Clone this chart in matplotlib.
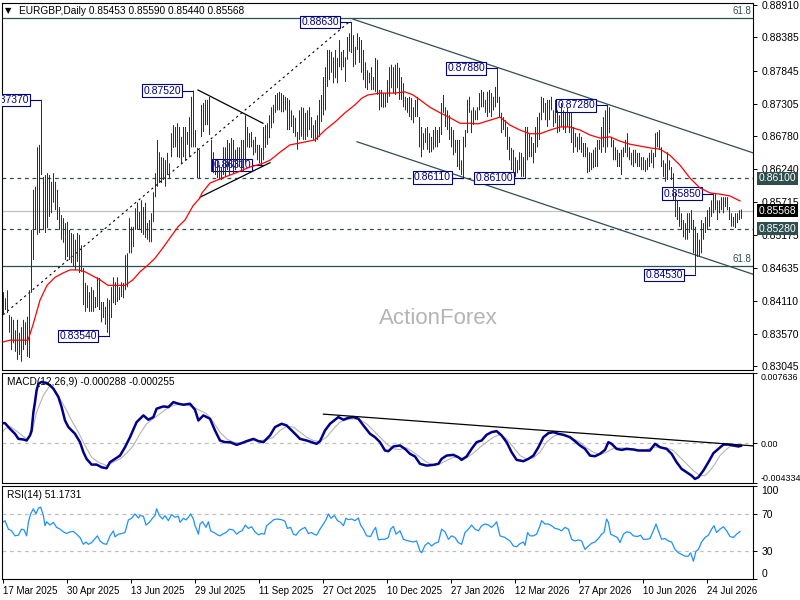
import matplotlib
matplotlib.use("Agg")
import matplotlib.pyplot as plt
import matplotlib.transforms as mtrans
import numpy as np

plt.rcParams['font.family'] = ['Liberation Sans', 'DejaVu Sans']

# ---------------- data (prices in pips = price x 10000) ----------------
high_pips = [
    8425, 8415, 8428, 8388, 8385, 8380, 8363, 8380, 8359, 8368,
    8380, 8376, 8385, 8428, 8526, 8591, 8596, 8660, 8664, 8737,
    8612, 8615, 8618, 8615, 8604, 8618, 8604, 8591, 8563, 8550,
    8545, 8537, 8539, 8526, 8521, 8519, 8510, 8521, 8518, 8501,
    8464, 8440, 8436, 8425, 8433, 8428, 8417, 8449, 8448, 8409,
    8409, 8401, 8415, 8412, 8433, 8449, 8441, 8449, 8433, 8441,
    8440, 8485, 8488, 8545, 8531, 8531, 8561, 8570, 8555, 8574,
    8563, 8570, 8537, 8542, 8553, 8587, 8618, 8672, 8652, 8644,
    8643, 8639, 8651, 8634, 8683, 8696, 8693, 8699, 8693, 8677,
    8693, 8693, 8685, 8709, 8742, 8752, 8688, 8659, 8656, 8729,
    8732, 8737, 8737, 8742, 8672, 8652, 8639, 8639, 8631, 8628,
    8660, 8660, 8672, 8667, 8675, 8672, 8656, 8660, 8660, 8672,
    8672, 8712, 8693, 8683, 8685, 8672, 8677, 8664, 8664, 8659,
    8693, 8696, 8699, 8712, 8725, 8729, 8745, 8748, 8750, 8748,
    8745, 8742, 8740, 8737, 8720, 8712, 8708, 8685, 8720, 8725,
    8724, 8716, 8720, 8725, 8709, 8696, 8704, 8712, 8737, 8745,
    8774, 8790, 8818, 8818, 8815, 8806, 8818, 8805, 8834, 8815,
    8818, 8806, 8839, 8845, 8863, 8842, 8823, 8845, 8839, 8834,
    8818, 8798, 8785, 8781, 8790, 8774, 8805, 8802, 8753, 8753,
    8748, 8748, 8769, 8790, 8794, 8790, 8794, 8797, 8789, 8774,
    8764, 8742, 8740, 8742, 8740, 8725, 8737, 8742, 8709, 8693,
    8683, 8691, 8693, 8683, 8677, 8688, 8693, 8688, 8693, 8732,
    8745, 8725, 8720, 8712, 8693, 8688, 8672, 8672, 8672, 8639,
    8677, 8688, 8737, 8742, 8720, 8725, 8720, 8725, 8748, 8753,
    8750, 8737, 8750, 8753, 8748, 8742, 8758, 8788, 8742, 8716,
    8709, 8704, 8693, 8677, 8659, 8656, 8644, 8639, 8652, 8651,
    8644, 8693, 8693, 8683, 8677, 8667, 8693, 8709, 8716, 8742,
    8740, 8732, 8737, 8737, 8742, 8720, 8737, 8720, 8712, 8732,
    8720, 8716, 8725, 8716, 8717, 8693, 8683, 8677, 8683, 8677,
    8667, 8667, 8660, 8652, 8651, 8656, 8660, 8672, 8672, 8693,
    8709, 8720, 8728, 8725, 8677, 8672, 8660, 8656, 8651, 8656,
    8660, 8672, 8683, 8660, 8651, 8656, 8656, 8651, 8651, 8644,
    8644, 8639, 8643, 8651, 8656, 8651, 8683, 8685, 8688, 8660,
    8639, 8634, 8652, 8639, 8628, 8618, 8586, 8574, 8563, 8553,
    8542, 8537, 8553, 8553, 8558, 8542, 8531, 8521, 8510, 8542,
    8537, 8547, 8558, 8563, 8574, 8585, 8584, 8574, 8574, 8579,
    8579, 8579, 8579, 8563, 8553, 8547, 8553, 8553, 8558, 8559,
]
low_pips = [
    8388, 8396, 8391, 8359, 8331, 8342, 8328, 8315, 8323, 8312,
    8331, 8339, 8320, 8318, 8424, 8477, 8526, 8518, 8521, 8615,
    8526, 8521, 8529, 8547, 8553, 8570, 8558, 8542, 8526, 8510,
    8505, 8477, 8482, 8477, 8472, 8466, 8461, 8474, 8456, 8458,
    8404, 8393, 8399, 8393, 8393, 8393, 8399, 8401, 8396, 8376,
    8383, 8372, 8359, 8354, 8383, 8407, 8404, 8409, 8412, 8417,
    8415, 8428, 8433, 8488, 8488, 8498, 8526, 8526, 8526, 8521,
    8518, 8513, 8510, 8506, 8506, 8539, 8579, 8596, 8602, 8602,
    8607, 8596, 8615, 8610, 8644, 8659, 8660, 8644, 8643, 8634,
    8644, 8639, 8664, 8644, 8660, 8660, 8660, 8610, 8610, 8677,
    8685, 8696, 8696, 8680, 8620, 8618, 8615, 8610, 8607, 8607,
    8615, 8612, 8623, 8615, 8628, 8618, 8623, 8628, 8628, 8623,
    8620, 8634, 8660, 8659, 8660, 8647, 8651, 8639, 8634, 8631,
    8639, 8659, 8664, 8675, 8691, 8699, 8716, 8720, 8720, 8717,
    8717, 8720, 8688, 8688, 8693, 8683, 8677, 8656, 8672, 8677,
    8672, 8672, 8677, 8688, 8675, 8672, 8669, 8672, 8677, 8701,
    8712, 8720, 8758, 8769, 8781, 8764, 8772, 8764, 8790, 8785,
    8790, 8766, 8802, 8815, 8813, 8790, 8794, 8818, 8797, 8781,
    8769, 8756, 8753, 8764, 8753, 8753, 8750, 8745, 8720, 8725,
    8724, 8725, 8732, 8742, 8756, 8748, 8745, 8756, 8737, 8737,
    8725, 8720, 8716, 8709, 8704, 8699, 8709, 8709, 8660, 8644,
    8656, 8667, 8656, 8651, 8652, 8656, 8660, 8660, 8667, 8680,
    8716, 8693, 8688, 8672, 8660, 8647, 8651, 8628, 8623, 8615,
    8611, 8660, 8683, 8716, 8683, 8696, 8704, 8704, 8720, 8725,
    8725, 8716, 8709, 8716, 8709, 8720, 8725, 8732, 8709, 8683,
    8688, 8677, 8656, 8639, 8623, 8618, 8612, 8618, 8623, 8612,
    8612, 8610, 8639, 8644, 8644, 8634, 8651, 8660, 8672, 8704,
    8716, 8704, 8693, 8704, 8720, 8693, 8699, 8683, 8685, 8693,
    8688, 8683, 8693, 8683, 8667, 8651, 8660, 8652, 8656, 8651,
    8644, 8644, 8618, 8620, 8623, 8626, 8628, 8628, 8656, 8651,
    8660, 8651, 8660, 8683, 8660, 8639, 8639, 8628, 8628, 8615,
    8644, 8651, 8644, 8639, 8631, 8628, 8634, 8628, 8628, 8623,
    8623, 8620, 8623, 8628, 8634, 8626, 8644, 8660, 8656, 8628,
    8612, 8604, 8607, 8623, 8607, 8574, 8547, 8542, 8531, 8526,
    8514, 8510, 8510, 8521, 8526, 8488, 8453, 8482, 8482, 8488,
    8510, 8521, 8526, 8531, 8547, 8553, 8558, 8542, 8553, 8558,
    8553, 8563, 8558, 8542, 8531, 8531, 8529, 8537, 8542, 8544,
]

# moving average (bar index, pips)
ma_pts = [(0, 8344), (3.5, 8347), (12.5, 8347), (15, 8372), (18.5, 8412), (22, 8436), (26, 8449),
          (30, 8456), (33.5, 8461), (37.5, 8461), (41, 8458), (45, 8451), (48.5, 8445), (52.5, 8436),
          (56, 8436), (61, 8436), (65, 8445), (68.5, 8458), (72.5, 8469), (76, 8480), (80, 8497),
          (83.5, 8513), (87.5, 8531), (91, 8542), (95, 8565), (98.5, 8578), (99.5, 8586), (103.5, 8602),
          (109.5, 8610), (116, 8618), (123.5, 8628), (130, 8634), (133.5, 8639), (138.5, 8652),
          (143.5, 8664), (148.5, 8667), (156, 8672), (161, 8688), (166, 8701), (171, 8716), (176, 8729),
          (179.5, 8740), (182.5, 8745), (188.5, 8748), (196, 8748), (201, 8750), (205, 8745),
          (208.5, 8737), (213.5, 8725), (218.5, 8716), (223.5, 8708), (228.5, 8699), (233.5, 8699),
          (237.5, 8698), (243.5, 8704), (248.5, 8709), (253.5, 8696), (258.5, 8688), (263.5, 8682),
          (268.5, 8682), (273.5, 8688), (278.5, 8693), (283.5, 8693), (288.5, 8688), (293.5, 8680),
          (298.5, 8675), (303.5, 8677), (308.5, 8670), (313.5, 8665), (318.5, 8662), (323.5, 8659),
          (328.5, 8657), (333.5, 8647), (338.5, 8631), (343.5, 8610), (348.5, 8594), (353.5, 8586),
          (358.5, 8584), (363.5, 8581), (368.5, 8573)]

macd_pts = [(-1.5, 0.00218), (1, 0.00218), (3.5, 0.00156), (6, 0.00102), (7.7, 0.00047), (10.2, 0.00040),
            (11.8, 0.00029), (13.5, 0.00084), (14.3, 0.00138), (15.2, 0.00338), (16, 0.00447),
            (16.8, 0.00575), (17.7, 0.00647), (19.3, 0.00666), (21.8, 0.00655), (23.5, 0.00629),
            (25.2, 0.00593), (27.7, 0.00502), (29.3, 0.00393), (31, 0.00247), (32.7, 0.00175),
            (36, 0.00102), (38.5, 0.00011), (40.2, -0.00098), (41.8, -0.00171), (44.3, -0.00233),
            (46.8, -0.00233), (49.3, -0.00262), (51.8, -0.00273), (53.5, -0.00207), (56, -0.00171),
            (58.5, -0.00135), (61, -0.00044), (63.5, 0.00065), (66.8, 0.00229), (70.2, 0.00302),
            (72.7, 0.00255), (75.2, 0.00284), (76.8, 0.00375), (80.2, 0.00400), (82.7, 0.00393),
            (85.2, 0.00447), (87.7, 0.00429), (90.2, 0.00418), (93.5, 0.00429), (96, 0.00364),
            (97.7, 0.00247), (100.2, 0.00302), (103.5, 0.00266), (106, 0.00138), (108.5, 0.00029),
            (111, 0.00011), (113.5, 0.00011), (116.8, -0.00018), (119.3, 0.0), (121.8, 0.00022),
            (125.2, 0.00047), (127.7, 0.00022), (130.2, 0.00011), (133.5, 0.00084), (136, 0.00175),
            (139.3, 0.00211), (141.8, 0.00193), (145.2, 0.00120), (148.5, 0.00047), (151.8, 0.00029),
            (154.3, 0.00011), (156.8, -0.00007), (158.5, 0.00022), (161, 0.00138), (163.5, 0.00211),
            (166, 0.00255), (167.7, 0.00284), (170.2, 0.00255), (172.7, 0.00276), (175.2, 0.00284),
            (177.7, 0.00266), (180.2, 0.00193), (183.5, 0.00102), (186, 0.00065), (188.5, 0.00011),
            (191, -0.00080), (192.7, -0.00087), (195.2, -0.00036), (198.5, -0.00025), (201, -0.00062),
            (203.5, -0.00116), (206, -0.00145), (208.5, -0.00225), (211.8, -0.00244), (215.2, -0.00236),
            (217.7, -0.00225), (219.3, -0.00171), (221.8, -0.00135), (225.2, -0.00127), (227.7, -0.00153),
            (229.3, -0.00182), (231.8, -0.00145), (234.3, -0.00062), (236.8, 0.00011), (239.3, 0.00029),
            (241.8, 0.00091), (244.3, 0.00120), (246.8, 0.00131), (249.3, 0.00084), (251.8, 0.00011),
            (254.3, -0.00098), (256.8, -0.00182), (260.2, -0.00196), (262.7, -0.00171), (265.2, -0.00135),
            (267.7, -0.00044), (270.2, 0.00065), (272.7, 0.00109), (275.2, 0.00120), (277.7, 0.00102),
            (280.2, 0.00091), (283.5, 0.00065), (286, 0.00022), (288.5, -0.00025), (291, -0.00062),
            (293.5, -0.00135), (296, -0.00142), (298.5, -0.00116), (301, -0.00073), (302.7, 0.00011),
            (304.3, -0.00007), (306.8, -0.00062), (309.3, -0.00073), (311.8, -0.00062), (315.2, -0.00069),
            (317.7, -0.00080), (321, -0.00080), (323.5, -0.00080), (326, -0.00007), (328.5, -0.00044),
            (331.8, -0.00062), (334.3, -0.00116), (336.8, -0.00207), (339.3, -0.00280), (341.8, -0.00316),
            (344.3, -0.00353), (346, -0.00389), (347.7, -0.00371), (350.2, -0.00298), (352.7, -0.00207),
            (355.2, -0.00109), (357.7, -0.00062), (360.2, -0.00015), (362.7, -0.00015), (365.2, -0.00025),
            (367.7, -0.00036), (369, -0.000288)]

signal_pts = [(-1.5, 0.00084), (1, 0.00156), (3.5, 0.00182), (6, 0.00145), (8.5, 0.00102), (11.8, 0.00047),
              (14.3, 0.00102), (16.8, 0.00338), (20.2, 0.00520), (23.5, 0.00629), (26, 0.00575),
              (28.5, 0.00484), (31.8, 0.00356), (34.3, 0.00247), (37.7, 0.00120), (41, -0.00025),
              (44.3, -0.00153), (47.7, -0.00207), (51.8, -0.00244), (55.2, -0.00207), (58.5, -0.00171),
              (61.8, -0.00109), (65.2, -0.00025), (68.5, 0.00102), (71.8, 0.00211), (75.2, 0.00266),
              (78.5, 0.00320), (81.8, 0.00375), (85.2, 0.00411), (88.5, 0.00429), (91.8, 0.00418),
              (95.2, 0.00393), (98.5, 0.00356), (101.8, 0.00320), (105.2, 0.00229), (108.5, 0.00120),
              (111.8, 0.00047), (115.2, 0.00011), (118.5, 0.0), (121.8, 0.00011), (125.2, 0.00029),
              (128.5, 0.00029), (131.8, 0.00036), (135.2, 0.00065), (138.5, 0.00138), (141.8, 0.00182),
              (145.2, 0.00175), (148.5, 0.00120), (151.8, 0.00065), (155.2, 0.00029), (158.5, 0.00018),
              (161.8, 0.00065), (165.2, 0.00156), (168.5, 0.00229), (171.8, 0.00255), (175.2, 0.00266),
              (178.5, 0.00255), (181.8, 0.00211), (185.2, 0.00138), (188.5, 0.00065), (191.8, -0.00007),
              (195.2, -0.00062), (198.5, -0.00069), (201.8, -0.00051), (205.2, -0.00098), (208.5, -0.00153),
              (211.8, -0.00207), (215.2, -0.00236), (218.5, -0.00225), (221.8, -0.00189), (225.2, -0.00153),
              (228.5, -0.00160), (231.8, -0.00160), (235.2, -0.00109), (238.5, -0.00044), (241.8, 0.00011),
              (245.2, 0.00065), (248.5, 0.00095), (251.8, 0.00047), (255.2, -0.00044), (258.5, -0.00135),
              (261.8, -0.00171), (265.2, -0.00160), (268.5, -0.00098), (271.8, 0.00011), (275.2, 0.00073),
              (278.5, 0.00102), (281.8, 0.00084), (285.2, 0.00047), (288.5, 0.00011), (291.8, -0.00051),
              (295.2, -0.00098), (298.5, -0.00124), (301.8, -0.00098), (305.2, -0.00055), (308.5, -0.00051),
              (311.8, -0.00055), (315.2, -0.00062), (318.5, -0.00073), (321.8, -0.00069), (325.2, -0.00044),
              (328.5, -0.00044), (331.8, -0.00051), (335.2, -0.00080), (338.5, -0.00153), (341.8, -0.00225),
              (345.2, -0.00298), (348.5, -0.00353), (351, -0.00353), (353.5, -0.00298), (356, -0.00225),
              (358.5, -0.00135), (361, -0.00080), (363.5, -0.00036), (366, -0.00025), (369, -0.000255)]

rsi_pts = [(-0.2, 60.9), (1, 62.7), (2.7, 53.6), (4.3, 51.8), (6, 46.4), (7.7, 47.1), (9.3, 53.6), (10.5, 52.9),
           (11.8, 46.4), (12.7, 60.9), (13.8, 70.0), (15.2, 75.5), (16.5, 70.0), (17.7, 76.2), (18.8, 77.3),
           (20.2, 68.2), (21, 57.3), (21.8, 61.6), (23.5, 58.0), (25.2, 60.9), (26.8, 55.5), (28.5, 53.6),
           (30.2, 50.7), (31.8, 48.9), (33.5, 50.7), (35.2, 51.1), (36.8, 48.2), (38.5, 44.6), (40.2, 37.3),
           (41.5, 39.8), (42.7, 37.3), (44.3, 39.1), (46, 43.5), (47.2, 46.4), (48.5, 40.9), (50.2, 38.0),
           (51.8, 37.3), (53.5, 46.4), (55.2, 51.8), (56, 45.3), (57.7, 48.2), (59.3, 48.9), (61, 50.0),
           (62.7, 63.5), (64.3, 65.3), (66, 70.0), (67.7, 65.6), (68.5, 68.2), (70.2, 67.5), (71.5, 58.0),
           (73.2, 60.9), (74.8, 65.6), (76, 68.2), (76.8, 75.5), (78.2, 68.2), (79.8, 64.5), (81, 68.2),
           (82.7, 62.7), (84.3, 69.3), (86, 66.4), (87.7, 67.5), (88.5, 60.9), (90.2, 65.3), (91.5, 63.5),
           (92.7, 66.4), (93.8, 70.0), (95.2, 64.5), (96, 57.3), (96.8, 53.6), (97.7, 48.2), (98.5, 59.1),
           (99.8, 61.6), (101.5, 55.5), (102.7, 61.6), (103.8, 51.8), (105.5, 50.0), (107.2, 47.5),
           (108.5, 46.4), (109.8, 48.2), (111.5, 50.0), (113.2, 53.6), (115.2, 52.6), (116.8, 48.2),
           (118.2, 50.7), (119.5, 51.8), (121.2, 58.0), (122.7, 54.4), (124.3, 56.2), (126, 50.7),
           (127.7, 47.5), (129.3, 48.9), (130.7, 48.2), (131.8, 57.3), (133.5, 60.2), (135.2, 63.5),
           (136.8, 64.5), (139.3, 63.8), (141, 62.0), (142.2, 54.4), (143.8, 55.5), (145.2, 48.2),
           (146.5, 47.1), (148.2, 51.8), (149.3, 53.6), (151, 55.5), (152.7, 48.9), (154.3, 50.0),
           (155.5, 48.2), (156.8, 47.1), (158.5, 53.6), (160.2, 59.1), (161.5, 63.8), (162.7, 70.0),
           (164, 65.3), (165.7, 68.2), (167.3, 62.7), (168.8, 60.9), (170.2, 57.3), (171.5, 65.3),
           (172.7, 63.8), (174.3, 64.5), (176, 62.7), (177.7, 65.6), (178.8, 58.0), (180.2, 53.6),
           (181.8, 46.4), (183.8, 45.7), (185.2, 51.8), (186.3, 55.5), (187.7, 42.0), (189.3, 42.7),
           (191, 42.7), (192.7, 44.6), (193.8, 53.6), (195.2, 56.6), (196.5, 48.2), (198.5, 51.8),
           (200.2, 42.7), (202.7, 40.9), (205.2, 39.8), (206.8, 40.9), (208.5, 30.0), (209.3, 28.2),
           (211, 36.2), (212.7, 39.1), (214.3, 35.5), (216, 38.4), (217.7, 39.8), (219.3, 53.6),
           (221, 50.7), (222.7, 42.7), (224.3, 46.4), (226, 44.6), (227.7, 39.1), (229.3, 37.3),
           (231, 50.0), (232.7, 53.6), (234.3, 58.0), (236, 53.6), (237.7, 51.8), (239.3, 57.3),
           (241, 59.1), (242.7, 58.0), (244.3, 55.5), (246, 59.1), (246.8, 61.6), (248.5, 46.4),
           (251, 44.6), (253.5, 40.9), (255.2, 35.5), (256.8, 34.7), (258.5, 38.0), (260.2, 39.8),
           (261, 36.2), (262.3, 50.0), (263.5, 46.4), (265.2, 46.4), (266.8, 48.2), (268.5, 57.3),
           (269.3, 62.7), (271, 59.1), (272.7, 59.1), (274.3, 57.3), (276, 54.4), (277.7, 53.6),
           (279.3, 51.8), (281, 55.5), (282.7, 53.6), (284.3, 42.7), (286, 40.9), (287.7, 42.0),
           (289.3, 40.9), (291, 31.8), (292.7, 35.5), (294.3, 38.4), (296, 39.8), (297.7, 43.5),
           (299.3, 48.2), (300.5, 50.0), (301.8, 64.5), (302.7, 60.9), (303.8, 48.2), (305.5, 46.4),
           (307.2, 44.6), (308.5, 39.1), (310.2, 48.2), (311.8, 50.7), (313.5, 50.0), (315.2, 46.4),
           (317.2, 45.7), (318.8, 47.1), (320.2, 42.7), (321.8, 42.7), (323.5, 43.5), (325.5, 53.6),
           (326.5, 59.1), (327.7, 51.8), (329.3, 42.7), (331, 43.5), (332.7, 40.9), (334.3, 39.8),
           (336, 31.8), (337.7, 28.2), (339.3, 26.4), (341, 24.5), (342.7, 24.5), (343.8, 28.2),
           (345.2, 19.1), (346.5, 30.0), (347.7, 31.8), (349.3, 39.8), (351, 44.6), (352.7, 47.1),
           (354.3, 53.6), (355.5, 57.3), (356.8, 50.0), (358.5, 53.6), (360.2, 56.2), (361.8, 51.8),
           (363.5, 45.7), (365.2, 44.6), (366.8, 48.2), (368.5, 51.17)]

date_labels = ["17 Mar 2025", "30 Apr 2025", "13 Jun 2025", "29 Jul 2025", "11 Sep 2025", "27 Oct 2025",
               "10 Dec 2025", "27 Jan 2026", "12 Mar 2026", "27 Apr 2026", "10 Jun 2026", "24 Jul 2026"]
price_ticks = [0.88910, 0.88385, 0.87845, 0.87305, 0.86780, 0.86240, 0.85715, 0.85175,
               0.84635, 0.84110, 0.83570, 0.83045]
macd_ticks = [0.007636, 0.0, -0.004334]
rsi_ticks = [100, 70, 30, 0]

# swing labels: (text, bar index, price)
swing_labels = [("0.87370", 19, 0.87370), ("0.87520", 95, 0.87520), ("0.83540", 53, 0.83540),
                ("0.86310", 130, 0.86310), ("0.88630", 174, 0.88630), ("0.86110", 230, 0.86110),
                ("0.87880", 247, 0.87880), ("0.86100", 261, 0.86100), ("0.87280", 302, 0.87280),
                ("0.84530", 346, 0.84530), ("0.85850", 355, 0.85850)]

level_top618 = 0.88694
level_low618 = 0.84674
level_dash1 = 0.86100
level_dash2 = 0.85280
last_close = 0.85568

header = "EURGBP,Daily 0.85453 0.85590 0.85440 0.85568"

# ---------------- figure ----------------
W, H = 800, 600
fig = plt.figure(figsize=(8, 6), dpi=100)


def rect(top, bottom):
    return [2 / W, 1 - bottom / H, 751 / W, (bottom - top) / H]


ax1 = fig.add_axes(rect(2.5, 370))
ax2 = fig.add_axes(rect(373, 483))
ax3 = fig.add_axes(rect(486, 579))

SLATE = '#2F4F4F'
BAR = '#173650'
NAVY = '#000080'

for ax in (ax1, ax2, ax3):
    ax.set_xlim(-0.5, 375)
    for s in ax.spines.values():
        s.set_color('black')
        s.set_linewidth(0.8)
    ax.yaxis.tick_right()
    ax.tick_params(axis='y', direction='out', length=3, width=0.7, pad=3, labelsize=7.5, colors='black')
    ax.tick_params(axis='x', bottom=False, labelbottom=False)

# ---- main panel ----
highs = np.array(high_pips) / 10000.0
lows = np.array(low_pips) / 10000.0
idx = np.arange(len(highs))
ax1.set_ylim(0.82986, 0.88950)
# bars: 1 px wide, centred inside a pixel column
ax1.vlines(idx + 0.25, lows, highs, color=BAR, lw=0.72, zorder=4, antialiased=True, snap=False)

ma_x = [p[0] for p in ma_pts]
ma_y = [p[1] / 10000.0 for p in ma_pts]
ax1.plot(ma_x, ma_y, color='red', lw=0.9, zorder=5)

ax1.axhline(level_top618, color=SLATE, lw=0.9, zorder=2)
ax1.axhline(level_low618, color=SLATE, lw=0.9, zorder=2)
ax1.axhline(level_dash1, color=SLATE, lw=0.9, ls=(0, (3, 3)), zorder=2)
ax1.axhline(level_dash2, color=SLATE, lw=0.9, ls=(0, (3, 3)), zorder=2)
ax1.axhline(last_close, color='#C0C0C0', lw=0.9, zorder=1)

ax1.text(374, level_top618 + 0.0003, "61.8", ha='right', va='bottom', fontsize=7, color=SLATE)
ax1.text(374, level_low618 + 0.0003, "61.8", ha='right', va='bottom', fontsize=7, color=SLATE)

# trend lines
ax1.plot([0, 174], [0.8388, 0.8866], color='black', lw=0.8, ls=(0, (2, 3)), zorder=3)
ax1.plot([175, 375], [0.8868, 0.8651], color=SLATE, lw=0.9, zorder=3)
ax1.plot([177, 375], [0.8669, 0.8454], color=SLATE, lw=0.9, zorder=3)
ax1.plot([97.5, 130], [0.8753, 0.8699], color='black', lw=0.9, zorder=3)
ax1.plot([98.5, 133.5], [0.8579, 0.8635], color='black', lw=0.9, zorder=3)

for txt, bi, pr in swing_labels:
    t = ax1.text(bi - 6, pr, txt, ha='right', va='center', fontsize=7.5, color=NAVY, zorder=3,
                 bbox=dict(boxstyle='square,pad=0.12', fc='white', ec=NAVY, lw=0.8))
    t.set_clip_on(True)
    ax1.plot([bi - 5.3, bi], [pr, pr], color=NAVY, lw=0.8, zorder=3)

ax1.set_yticks(price_ticks)
ax1.set_yticklabels([f"{v:.5f}" for v in price_ticks])

blend1 = mtrans.blended_transform_factory(ax1.transAxes, ax1.transData)
for val, fc in [(level_dash1, SLATE), (last_close, 'black'), (level_dash2, SLATE)]:
    ax1.annotate(f"{val:.5f}", xy=(1, val), xycoords=blend1, xytext=(6, 0), textcoords='offset pixels',
                 ha='left', va='center', fontsize=7.5, color='white', zorder=10, annotation_clip=False,
                 bbox=dict(boxstyle='square,pad=0.15', fc=fc, ec='none'))

ax1.text(3 / 751, 1 - 8.5 / 367.5, "\u25BC", transform=ax1.transAxes, fontsize=6,
         va='center', ha='left', family='DejaVu Sans')
ax1.text(17 / 751, 1 - 8.5 / 367.5, header, transform=ax1.transAxes, fontsize=7.3, va='center', ha='left')
ax1.text((438 - 2) / 751, (370 - 318) / 367.5, "ActionForex", transform=ax1.transAxes, fontsize=16,
         color='#B4B4B4', ha='center', va='center', zorder=0)

# ---- MACD panel ----
ax2.set_ylim(-0.004334, 0.007636)
ax2.axhline(0, color='#C0C0C0', lw=0.9, ls=(0, (3, 3)))
ax2.plot([p[0] for p in signal_pts], [p[1] for p in signal_pts], color='#B4B4B4', lw=0.8)
ax2.plot([p[0] for p in macd_pts], [p[1] for p in macd_pts], color='#00008B', lw=1.8)
ax2.plot([160.2, 375.5], [0.00316, -0.00030], color='black', lw=0.9)
ax2.set_yticks(macd_ticks)
ax2.set_yticklabels(["0.007636", "0.00", "-0.004334"])
ax2.tick_params(axis='y', labelsize=6.4, pad=2.5)
labs = ax2.get_yticklabels()
labs[0].set_va('top')
labs[2].set_va('bottom')
ax2.text(5 / 751, 1 - 9 / 110, "MACD(12,26,9) -0.000288 -0.000255", transform=ax2.transAxes,
         fontsize=7.3, va='center', ha='left')

# ---- RSI panel ----
ax3.set_ylim(0, 100)
ax3.axhline(70, color='#C0C0C0', lw=0.9, ls=(0, (3, 3)))
ax3.axhline(30, color='#C0C0C0', lw=0.9, ls=(0, (3, 3)))
ax3.plot([p[0] for p in rsi_pts], [p[1] for p in rsi_pts], color='#1E90FF', lw=0.9)
ax3.set_yticks(rsi_ticks)
ax3.set_yticklabels([str(v) for v in rsi_ticks])
labs = ax3.get_yticklabels()
labs[0].set_va('top')
labs[3].set_va('bottom')
ax3.text(5 / 751, 1 - 9 / 93, "RSI(14) 51.1731", transform=ax3.transAxes, fontsize=7.3,
         va='center', ha='left')

ax3.set_xticks([32 * k for k in range(len(date_labels))])
ax3.set_xticklabels(date_labels)
ax3.tick_params(axis='x', bottom=True, labelbottom=True, direction='out', length=3, width=0.7,
                labelsize=7, pad=2)
for lb in ax3.get_xticklabels():
    lb.set_ha('left')

fig.savefig("out.png", dpi=100)
